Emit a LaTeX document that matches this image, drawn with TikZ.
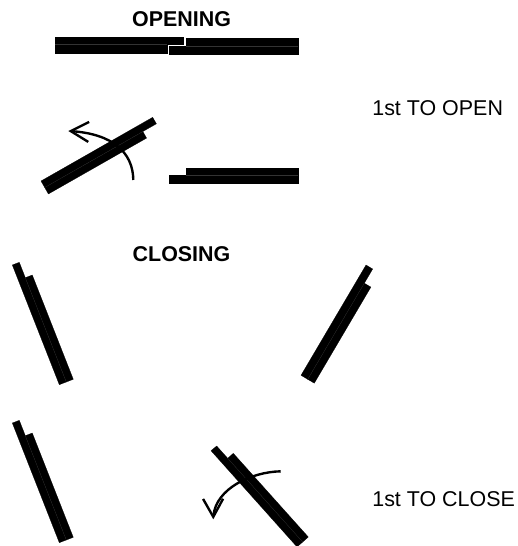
\documentclass[tikz,border=0pt]{standalone}
\usepackage{fontspec}
\setmainfont{Liberation Sans}
\usetikzlibrary{arrows.meta,bending,positioning}

\begin{document}
\begin{tikzpicture}[
    x=0.02cm, y=-0.02cm,
    panel/.style={fill=black, draw=black, line width=0.12pt},
    seam/.style={draw=black!80, line width=0.1pt},
    title/.style={font=\bfseries\fontsize{12.2}{14}\selectfont, inner sep=0pt},
    note/.style={font=\fontsize{12.2}{14}\selectfont, inner sep=0pt, anchor=west},
    swing/.style={-{Straight Barb[length=0.36cm, width=0.40cm, flex=0]}, line width=1.35pt}
]
    \useasboundingbox (0,0) rectangle (517,546);
    \clip (0,0) rectangle (517,546);

    \node[title] (opening) at (181.5,19.5) {OPENING};
    \node[title] (closing) at (181.5,254) {CLOSING};
    \node[note] (firstopen) at (372,108) {1st TO OPEN};
    \node[note] (firstclose) at (372,499) {1st TO CLOSE};

    % closed pair
    \draw[panel] (55,36.7) -- (183.5,36.7) -- (183.5,44.3) -- (55,44.3) -- cycle;
    \draw[panel] (55,44.3) -- (167,44.3) -- (167,52.7) -- (55,52.7) -- cycle;
    \draw[panel] (186,38) -- (298,38) -- (298,46) -- (186,46) -- cycle;
    \draw[panel] (169.5,46) -- (298,46) -- (298,54) -- (169.5,54) -- cycle;
    \draw[seam] (55,44.3) -- (167,44.3);
    \draw[seam] (186,46) -- (298,46);

    % first to open
    \draw[panel] (41,181) -- (152.7,117.3) -- (156.4,123.8) -- (44.7,187.5) -- cycle;
    \draw[panel] (44.7,187.5) -- (142.9,131.6) -- (146.6,138.1) -- (48.4,194) -- cycle;
    \draw[seam] (44.7,187.5) -- (142.9,131.6);
    \draw[panel] (185.7,167.7) -- (298,167.7) -- (298,175.5) -- (185.7,175.5) -- cycle;
    \draw[panel] (169.3,175.5) -- (298,175.5) -- (298,183.3) -- (169.3,183.3) -- cycle;
    \draw[seam] (185.7,175.5) -- (298,175.5);
    \coordinate (openstart) at (133.3,180);
    \coordinate (opentip) at (68.3,131);
    \draw[swing] (openstart) .. controls (133,152) and (112,133) .. (opentip);

    % closing, both open
    \draw[panel] (12.3,265) -- (19.3,262.3) -- (66.3,382) -- (59.3,384.7) -- cycle;
    \draw[panel] (25.3,277.7) -- (32.3,275) -- (73.3,379.3) -- (66.3,382) -- cycle;
    \draw[seam] (25.3,277.7) -- (66.3,382);
    \draw[panel] (366,265) -- (372.7,269) -- (307.7,379.3) -- (301,375.3) -- cycle;
    \draw[panel] (364.3,283.2) -- (370.9,287.1) -- (314.3,383.2) -- (307.7,379.3) -- cycle;
    \draw[seam] (364.3,283.2) -- (307.7,379.3);

    % first to close
    \draw[panel] (12.3,423) -- (19.3,420.3) -- (66.3,540) -- (59.3,542.7) -- cycle;
    \draw[panel] (25.3,435.7) -- (32.3,433) -- (73.3,537.3) -- (66.3,540) -- cycle;
    \draw[seam] (25.3,435.7) -- (66.3,540);
    \draw[panel] (211,450.7) -- (216.7,446) -- (302.7,542) -- (297,546.9) -- cycle;
    \draw[panel] (227.7,458.3) -- (233.3,453.3) -- (308.3,537) -- (302.7,542) -- cycle;
    \draw[seam] (227.7,458.3) -- (302.7,542);
    \coordinate (closestart) at (280.7,471.3);
    \coordinate (closetip) at (213.3,519.3);
    \draw[swing] (closestart) .. controls (250,472) and (213,490) .. (closetip);
\end{tikzpicture}
\end{document}
